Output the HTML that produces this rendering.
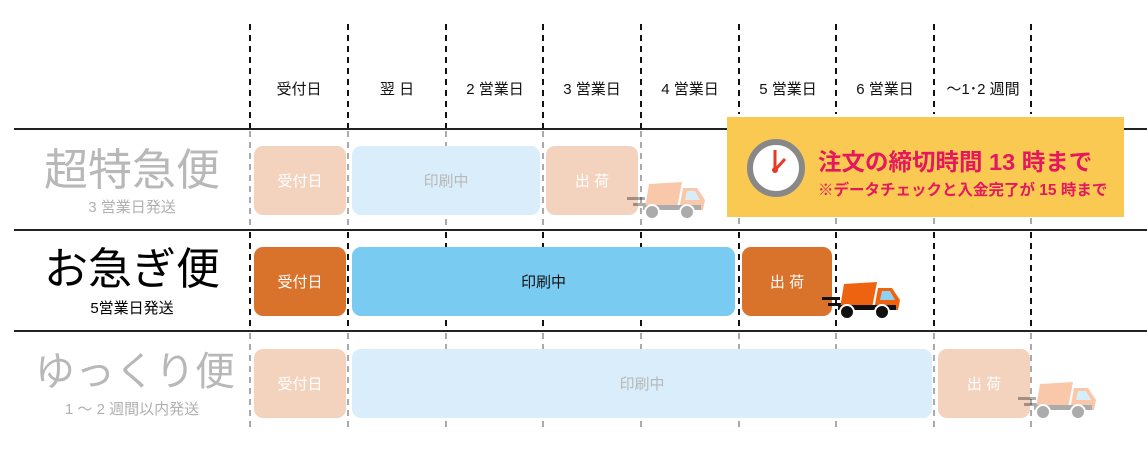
<!DOCTYPE html>
<html><head><meta charset="utf-8"><style>
body{margin:0;width:1147px;height:466px;background:#fff;overflow:hidden;position:relative;font-family:"Liberation Sans","Noto Sans CJK JP",sans-serif}
.a{position:absolute}
.v{position:absolute;width:2px;background:repeating-linear-gradient(#111 0 6px,transparent 6px 11px)}
.vg{position:absolute;width:2px;background:repeating-linear-gradient(#aaa 0 6px,transparent 6px 11px)}
.h{position:absolute;left:14px;width:1133px;height:2px;background:#222}
.hd{position:absolute;top:78px;font-size:15px;color:#111;text-align:center;width:98px}
.b{position:absolute;border-radius:9px;color:#fff;font-size:15px;display:flex;align-items:center;justify-content:center}
.t1{position:absolute;font-size:44px;text-align:center;width:220px;left:22px;line-height:1}
.t2{position:absolute;font-size:15px;text-align:center;width:220px;left:22px}
</style></head><body>
<div class="v" style="left:249px;top:24px;height:105px"></div>
<div class="v" style="left:347px;top:24px;height:105px"></div>
<div class="v" style="left:445px;top:24px;height:105px"></div>
<div class="v" style="left:542px;top:24px;height:105px"></div>
<div class="v" style="left:640px;top:24px;height:105px"></div>
<div class="v" style="left:738px;top:24px;height:90px"></div>
<div class="v" style="left:835px;top:24px;height:90px"></div>
<div class="v" style="left:933px;top:24px;height:90px"></div>
<div class="v" style="left:1030px;top:24px;height:90px"></div>
<div class="vg" style="left:249px;top:131px;height:99px"></div>
<div class="vg" style="left:347px;top:131px;height:99px"></div>
<div class="vg" style="left:445px;top:131px;height:99px"></div>
<div class="vg" style="left:542px;top:131px;height:99px"></div>
<div class="vg" style="left:640px;top:131px;height:99px"></div>
<div class="vg" style="left:738px;top:218px;height:12px"></div>
<div class="vg" style="left:835px;top:218px;height:12px"></div>
<div class="vg" style="left:933px;top:218px;height:12px"></div>
<div class="vg" style="left:1030px;top:218px;height:12px"></div>
<div class="v" style="left:249px;top:232px;height:99px"></div>
<div class="v" style="left:347px;top:232px;height:99px"></div>
<div class="v" style="left:445px;top:232px;height:99px"></div>
<div class="v" style="left:542px;top:232px;height:99px"></div>
<div class="v" style="left:640px;top:232px;height:99px"></div>
<div class="v" style="left:738px;top:232px;height:99px"></div>
<div class="v" style="left:835px;top:232px;height:99px"></div>
<div class="v" style="left:933px;top:232px;height:99px"></div>
<div class="v" style="left:1030px;top:232px;height:99px"></div>
<div class="vg" style="left:249px;top:333px;height:97px"></div>
<div class="vg" style="left:347px;top:333px;height:97px"></div>
<div class="vg" style="left:445px;top:333px;height:97px"></div>
<div class="vg" style="left:542px;top:333px;height:97px"></div>
<div class="vg" style="left:640px;top:333px;height:97px"></div>
<div class="vg" style="left:738px;top:333px;height:97px"></div>
<div class="vg" style="left:835px;top:333px;height:97px"></div>
<div class="vg" style="left:933px;top:333px;height:97px"></div>
<div class="vg" style="left:1030px;top:333px;height:97px"></div>

<div class="h" style="top:128px"></div>
<div class="h" style="top:229px"></div>
<div class="h" style="top:330px"></div>

<div class="hd" style="left:250px">受付日</div>
<div class="hd" style="left:348px">翌 日</div>
<div class="hd" style="left:446px">2 営業日</div>
<div class="hd" style="left:543px">3 営業日</div>
<div class="hd" style="left:641px">4 営業日</div>
<div class="hd" style="left:739px">5 営業日</div>
<div class="hd" style="left:836px">6 営業日</div>
<div class="hd" style="left:934px">～1･2 週間</div>

<div class="t1" style="top:149px;color:#b8b8b8">超特急便</div>
<div class="t2" style="top:196px;color:#b0b0b0">3 営業日発送</div>
<div class="t1" style="top:248px;color:#000">お急ぎ便</div>
<div class="t2" style="top:297px;color:#000">5営業日発送</div>
<div class="t1" style="top:352px;color:#b8b8b8;font-size:40px;left:25px">ゆっくり便</div>
<div class="t2" style="top:398px;color:#b0b0b0">1 ～ 2 週間以内発送</div>

<div class="b" style="left:254px;top:146px;width:92px;height:69px;background:#f4d3be">受付日</div>
<div class="b" style="left:352px;top:146px;width:188px;height:69px;background:#d9eefa;color:#b8b8b8">印刷中</div>
<div class="b" style="left:546px;top:146px;width:92px;height:69px;background:#f4d3be">出 荷</div>

<div class="b" style="left:254px;top:247px;width:92px;height:69px;background:#d9732b">受付日</div>
<div class="b" style="left:352px;top:247px;width:383px;height:69px;background:#7acbf2;color:#111">印刷中</div>
<div class="b" style="left:742px;top:247px;width:90px;height:69px;background:#d9732b">出 荷</div>

<div class="b" style="left:254px;top:349px;width:92px;height:69px;background:#f4d3be">受付日</div>
<div class="b" style="left:352px;top:349px;width:580px;height:69px;background:#d9eefa;color:#b8b8b8">印刷中</div>
<div class="b" style="left:938px;top:349px;width:92px;height:69px;background:#f4d3be">出 荷</div>

<svg width="0" height="0" style="position:absolute"><defs>
<g id="tk">
<rect x="0" y="25" width="18" height="3" fill="#111"/><rect x="6" y="31" width="14" height="3" fill="#111"/>
<polygon points="22,12 55,10 50,36 18,36" fill="#ee6310"/>
<polygon points="56,16 70,16 78,28 76,38 52,38" fill="#ee6310"/>
<polygon points="60,19 68,19 73,28 58,28" fill="#8fd0f3"/>
<rect x="16" y="33" width="58" height="5" fill="#111"/>
<circle cx="25" cy="40" r="7" fill="#111" stroke="#fff" stroke-width="2"/>
<circle cx="60" cy="40" r="7" fill="#111" stroke="#fff" stroke-width="2"/>
</g></defs></svg>
<svg class="a" style="left:627px;top:172px;opacity:.35" width="82" height="52"><use href="#tk"/></svg>
<svg class="a" style="left:822px;top:272px" width="82" height="52"><use href="#tk"/></svg>
<svg class="a" style="left:1018px;top:372px;opacity:.35" width="82" height="52"><use href="#tk"/></svg>

<div class="a" style="left:727px;top:117px;width:397px;height:100px;background:#f9c951"></div>
<svg class="a" style="left:744px;top:137px" width="64" height="64">
<circle cx="32" cy="31" r="26" fill="#fff" stroke="#888" stroke-width="6"/>
<line x1="31" y1="33" x2="31" y2="13" stroke="#e53a2a" stroke-width="3"/>
<line x1="31" y1="33" x2="41" y2="22" stroke="#e53a2a" stroke-width="3"/>
<circle cx="31" cy="33" r="3" fill="#e53a2a"/>
</svg>
<div class="a" style="left:818px;top:143px;font-size:23.5px;font-weight:bold;color:#e5185f;white-space:nowrap">注文の締切時間 13 時まで</div>
<div class="a" style="left:818px;top:178px;font-size:15.5px;font-weight:bold;color:#e5185f;white-space:nowrap">※データチェックと入金完了が 15 時まで</div>
</body></html>
